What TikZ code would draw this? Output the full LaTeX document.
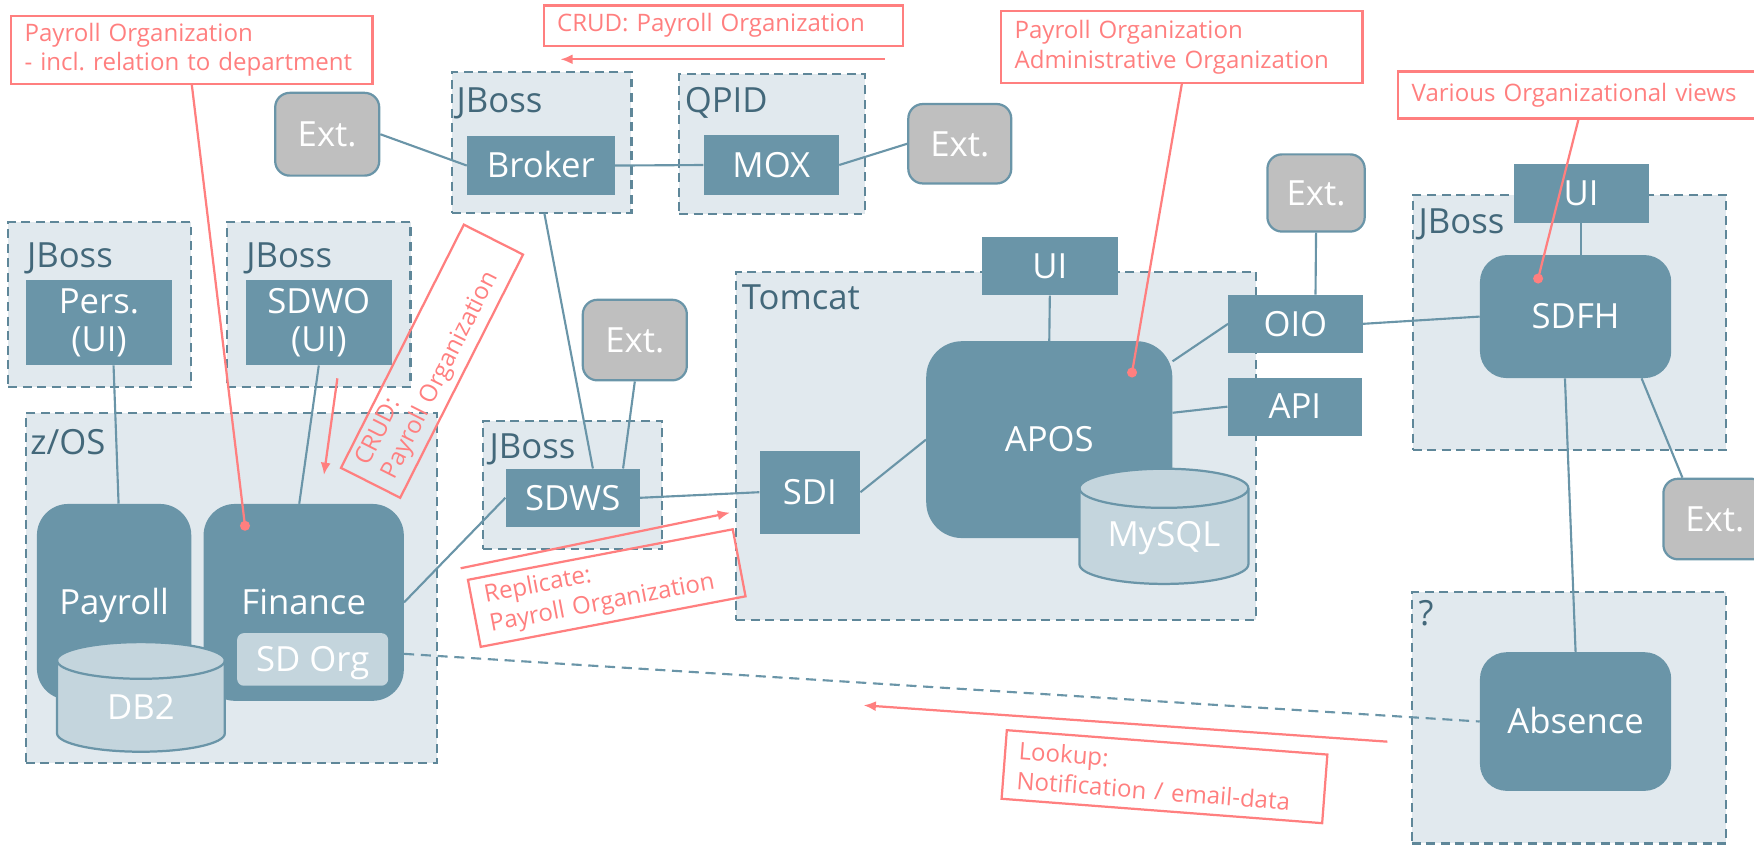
\documentclass[tikz,border=0pt]{standalone}
\usepackage{fontspec}
\setmainfont{Open Sans}
\usetikzlibrary{arrows.meta,calc}
\definecolor{nblue}{HTML}{6A95A8}
\definecolor{cfill}{HTML}{E1E9EE}
\definecolor{cline}{HTML}{5F8799}
\definecolor{ctext}{HTML}{43687A}
\definecolor{extgray}{HTML}{BFBFBF}
\definecolor{cylfill}{HTML}{C4D5DD}
\definecolor{cred}{HTML}{FF7F7F}
\newcommand\mynodefont{\fontsize{31}{34}\selectfont}
\newcommand\mycallfont{\fontsize{21.5}{26.5}\selectfont}
\frenchspacing
\begin{document}
\begin{tikzpicture}[x=1pt,y=-1pt,
  sz/.style 2 args={minimum width=#1pt, minimum height=#2pt},
  cont/.style={draw=cline, fill=cfill, line width=1.9pt, dash pattern=on 8pt off 5pt, inner sep=0pt},
  clabel/.style={text=ctext, font=\mynodefont, inner sep=0pt, anchor=base west},
  blk/.style={fill=nblue, text=white, font=\mynodefont, inner sep=0pt, text height=22pt, text depth=0pt},
  blktwo/.style={fill=nblue, text=white, font=\mynodefont, inner sep=0pt, align=center},
  rblk/.style={blk, rounded corners=#1pt},
  extbox/.style={fill=extgray, draw=nblue, line width=2pt, rounded corners=13pt, text=white, font=\mynodefont, inner sep=0pt, text height=22pt, text depth=0pt},
  subbox/.style={fill=cylfill, rounded corners=6pt, text=white, font=\mynodefont, inner sep=0pt, text height=22pt, text depth=0pt},
  cyl/.style={fill=cylfill, draw=nblue, line width=2pt},
  cyltext/.style={text=white, font=\mynodefont, inner sep=0pt},
  conn/.style={draw=nblue, line width=1.9pt},
  callout/.style={draw=cred, line width=2pt, text=cred, font=\mycallfont, inner sep=0pt, align=left},
  redline/.style={draw=cred, line width=2pt},
  redarrow/.style={redline, -{Latex[length=11pt,width=9pt]}},
  reddot/.style={circle, fill=cred, inner sep=0pt, minimum size=9pt}
]
\useasboundingbox (0,0) rectangle (1568,756);
\clip (0,0) rectangle (1568,756);

% containers
\node[cont, sz={160.5}{126.7}] (jb1) at (484.25,127.35) {};
\node[cont, sz={166}{125}] (qpid) at (690,128.5) {};
\node[cont, sz={163.5}{147.5}] (jbp) at (89.25,272.25) {};
\node[cont, sz={164}{147.5}] (jbw) at (285,272.25) {};
\node[cont, sz={368}{312.5}] (zos) at (207,525.75) {};
\node[cont, sz={160}{115}] (jbs) at (512,433.5) {};
\node[cont, sz={464.5}{311}] (tom) at (890.25,398.5) {};
\node[cont, sz={280}{227.7}] (jbf) at (1403,288.15) {};
\node[cont, sz={281}{224.5}] (qm) at (1402.5,641.75) {};

\node[clabel] (jb1l) at (408,101) {JBoss};
\node[clabel] (qpidl) at (612,101) {QPID};
\node[clabel] (jbpl) at (24,239) {JBoss};
\node[clabel] (jbwl) at (220,239) {JBoss};
\node[clabel] (zosl) at (27,406) {z/OS};
\node[clabel] (jbsl) at (437.5,410) {JBoss};
\node[clabel] (toml) at (663,277) {Tomcat};
\node[clabel] (jbfl) at (1268,208.6) {JBoss};
\node[clabel] (qml) at (1268,559) {?};

% components
\node[extbox, sz={93}{74}] (ext1) at (292.5,120) {Ext.};
\node[blk, sz={132}{52}] (broker) at (483.5,148) {Broker};
\node[blk, sz={121}{53}] (mox) at (689.5,147.5) {MOX};
\node[extbox, sz={92}{71}] (ext2) at (858,128.5) {Ext.};
\node[blktwo, sz={130}{76}] (pers) at (88.5,288.5) {Pers.\\(UI)};
\node[blktwo, sz={130}{76}] (sdwo) at (285,288.5) {SDWO\\(UI)};
\node[rblk=28, sz={138}{175}] (payroll) at (102,538) {Payroll};
\node[rblk=28, sz={179}{176}] (finance) at (271.5,538.5) {Finance};
\node[subbox, sz={135}{47}] (sdorg) at (279.5,589.5) {SD Org};
\path[cyl] (51,590.4) -- (51,655.6) arc[start angle=180, end angle=360, x radius=75pt, y radius=16.4pt]
  -- (201,590.4) arc[start angle=0, end angle=180, x radius=75pt, y radius=16.4pt] -- cycle;
\draw[cyl, fill=none] (51,590.4) arc[start angle=180, end angle=360, x radius=75pt, y radius=16.4pt];
\node[cyltext] (db2) at (126,632) {DB2};
\node[blk, sz={120}{52}] (sdws) at (512,445) {SDWS};
\node[extbox, sz={93}{72}] (extm) at (567.5,304) {Ext.};
\node[blk, sz={121}{52}] (ui1) at (938.5,238) {UI};
\node[blk, sz={90}{74}] (sdi) at (724,440) {SDI};
\node[rblk=32, sz={220}{176}] (apos) at (938,393) {APOS};
\path[cyl] (965,436.5) -- (965,504.5) arc[start angle=180, end angle=360, x radius=75.5pt, y radius=17.5pt]
  -- (1116,436.5) arc[start angle=0, end angle=180, x radius=75.5pt, y radius=17.5pt] -- cycle;
\draw[cyl, fill=none] (965,436.5) arc[start angle=180, end angle=360, x radius=75.5pt, y radius=17.5pt];
\node[cyltext] (mysql) at (1040.5,481) {MySQL};
\node[blk, sz={120}{52}] (oio) at (1158,289.5) {OIO};
\node[blk, sz={120}{52}] (api) at (1157.5,363.5) {API};
\node[extbox, sz={87}{69}] (ext3) at (1176.5,172.5) {Ext.};
\node[blk, sz={121}{52}] (ui2) at (1413.5,173) {UI};
\node[rblk=24, sz={171}{110}] (sdfh) at (1408.5,283) {SDFH};
\node[extbox, sz={92}{72}] (ext4) at (1533,464) {Ext.};
\node[rblk=24, sz={171}{124}] (absence) at (1408.5,645) {Absence};

% connectors
\draw[conn] (ext1.east) -- (broker.west);
\draw[conn] (broker.east) -- (mox.west);
\draw[conn] (mox.east) -- (ext2.west);
\draw[conn] ($(broker.south)!0.067!([xshift=18pt]sdws.north)$) -- ([xshift=18pt]sdws.north);
\draw[conn] (extm.south) -- ([xshift=45pt]sdws.north);
\draw[conn] ([xshift=13pt]pers.south) -- ([xshift=4pt]payroll.north);
\draw[conn] (sdwo.south) -- ([xshift=-4pt]finance.north);
\draw[conn] (finance.east) -- (sdws.west);
\draw[conn] (sdws.east) -- (sdi.west);
\draw[conn] (sdi.east) -- (apos.west);
\draw[conn] (ui1.south) -- (apos.north);
\draw[conn] ([yshift=70pt]apos.east) -- (oio.west);
\draw[conn] ([yshift=24pt]apos.east) -- (api.west);
\draw[conn] (ext3.south) -- ([xshift=18pt]oio.north);
\draw[conn] (oio.east) -- (sdfh.west);
\draw[conn] (ui2.south) -- (ui2.south |- sdfh.north);
\draw[conn] ([xshift=-9.5pt]sdfh.south) -- (absence.north);
\draw[conn] ([xshift=59pt]sdfh.south) -- ([xshift=-29pt]ext4.north);
\draw[conn, dash pattern=on 9pt off 6pt] ([yshift=-46pt]finance.east) -- (absence.west);

% callouts
\node[callout, sz={323}{61}, text width=299pt] (c1) at (171.5,44.5) {\mbox{Payroll Organization}\\\mbox{- incl. relation to department}};
\node[callout, sz={321}{36}, text width=297pt] (c2) at (646.5,23) {\mbox{CRUD: Payroll Organization}};
\node[callout, sz={323}{64}, text width=299pt] (c3) at (1056.5,42) {\mbox{Payroll Organization}\\\mbox{Administrative Organization}};
\node[callout, sz={360}{42}, text width=336pt] (c4) at (1430,85) {\mbox{Various Organizational views}};
\node[callout, sz={243.6}{59.3}, text width=220pt, rotate=63.2] (c5) at (386.2,322.9) {\mbox{CRUD:}\\\mbox{Payroll Organization}};
\node[callout, sz={241}{61}, text width=217pt, rotate=10.8] (c6) at (542.4,525.7) {\mbox{Replicate:}\\\mbox{Payroll Organization}};
\node[callout, sz={287.4}{61.5}, text width=263pt, rotate=-4.35] (c7) at (1041,694.3) {\mbox{Lookup:}\\\mbox{Notification / email-data}};

\node[reddot] (d1) at (219,470) {};
\node[reddot] (d3) at (1012,333) {};
\node[reddot] (d4) at (1375,249) {};
\draw[redline] (c1.south) -- (d1.center);
\draw[redline] (c3.south) -- (d3.center);
\draw[redline] ([xshift=-19pt]c4.south) -- (d4.center);

\coordinate (a1s) at (791,53);
\coordinate (a1e) at (501,53);
\coordinate (a2s) at (301.6,338.2);
\coordinate (a2e) at (289.6,424.6);
\coordinate (a3s) at (411.8,508);
\coordinate (a3e) at (652.6,458.3);
\coordinate (a4s) at (1240.2,663);
\coordinate (a4e) at (772,630.5);
\draw[redarrow] (a1s) -- (a1e);
\draw[redarrow] (a2s) -- (a2e);
\draw[redarrow] (a3s) -- (a3e);
\draw[redarrow] (a4s) -- (a4e);
\end{tikzpicture}
\end{document}
